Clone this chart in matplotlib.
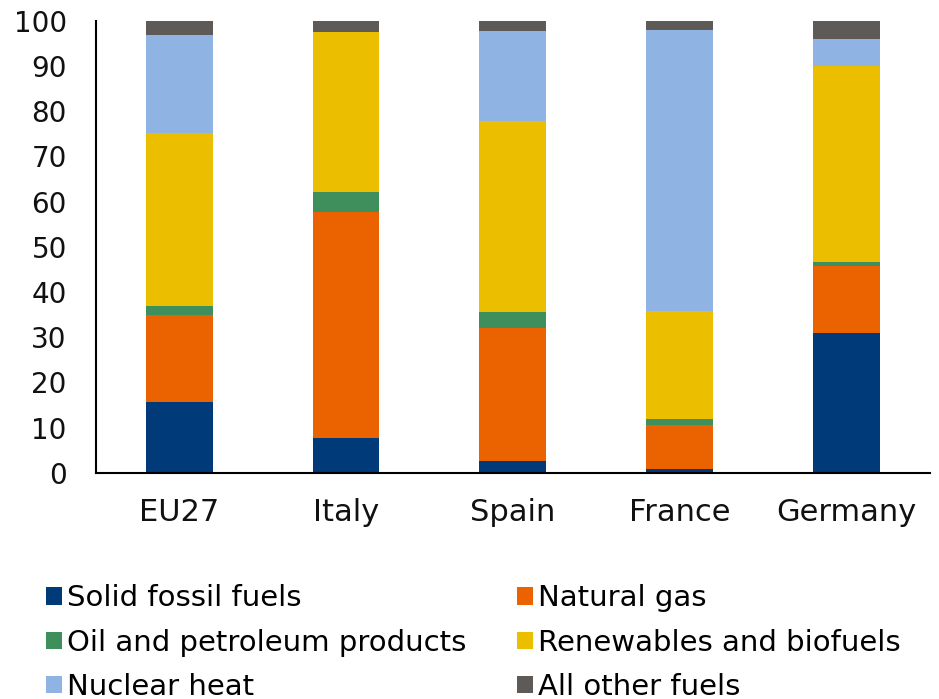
import matplotlib.pyplot as plt
import numpy as np

countries = ["EU27", "Italy", "Spain", "France", "Germany"]

# shares in % (bottom to top)
solid_fossil = [15.7, 7.7, 2.6, 0.9, 31.0]
natural_gas = [19.3, 50.1, 29.4, 9.6, 14.8]
oil_products = [1.9, 4.3, 3.6, 1.3, 0.8]
renewables = [38.2, 35.5, 42.2, 23.9, 43.4]
nuclear = [21.7, 0.0, 20.0, 62.2, 6.0]
other_fuels = [3.2, 2.4, 2.2, 2.1, 4.0]

series = [
    ("Solid fossil fuels", solid_fossil, "#003A78"),
    ("Natural gas", natural_gas, "#EA6300"),
    ("Oil and petroleum products", oil_products, "#3F8F5C"),
    ("Renewables and biofuels", renewables, "#EBBE00"),
    ("Nuclear heat", nuclear, "#8FB3E2"),
    ("All other fuels", other_fuels, "#5E5A57"),
]

plt.rcParams["font.family"] = ["DejaVu Sans"]

fig = plt.figure(figsize=(9.39, 6.99), dpi=100)
ax = fig.add_axes([0.1022, 0.3237, 0.8878, 0.6463])

x = np.arange(len(countries))
bottom = np.zeros(len(countries))
handles = {}
for name, vals, color in series:
    vals = np.array(vals)
    bars = ax.bar(x, vals, 0.4, bottom=bottom, color=color, label=name)
    handles[name] = bars
    bottom += vals

ax.set_xlim(-0.5, len(countries) - 0.5)
ax.set_ylim(0, 100)
ax.set_yticks(range(0, 101, 10))
ax.set_xticks(x)
ax.set_xticklabels(countries)
ax.tick_params(axis="both", length=0, colors="#111111")
ax.tick_params(axis="x", labelsize=22, pad=18)
ax.tick_params(axis="y", labelsize=20, pad=21)
for side in ("top", "right"):
    ax.spines[side].set_visible(False)
for side in ("left", "bottom"):
    ax.spines[side].set_linewidth(1.5)

# column-wise fill: col 1 = solid, oil, nuclear; col 2 = gas, renewables, other
order = ["Solid fossil fuels", "Oil and petroleum products", "Nuclear heat",
         "Natural gas", "Renewables and biofuels", "All other fuels"]
fig.legend([handles[n] for n in order], order, ncol=2, loc="upper left",
           bbox_to_anchor=(0.049, 0.164), frameon=False, fontsize=21,
           handlelength=0.55, handleheight=0.55, handletextpad=0.17,
           columnspacing=1.75, labelspacing=0.56, borderaxespad=0, borderpad=0)

fig.savefig("out.png", dpi=100)
